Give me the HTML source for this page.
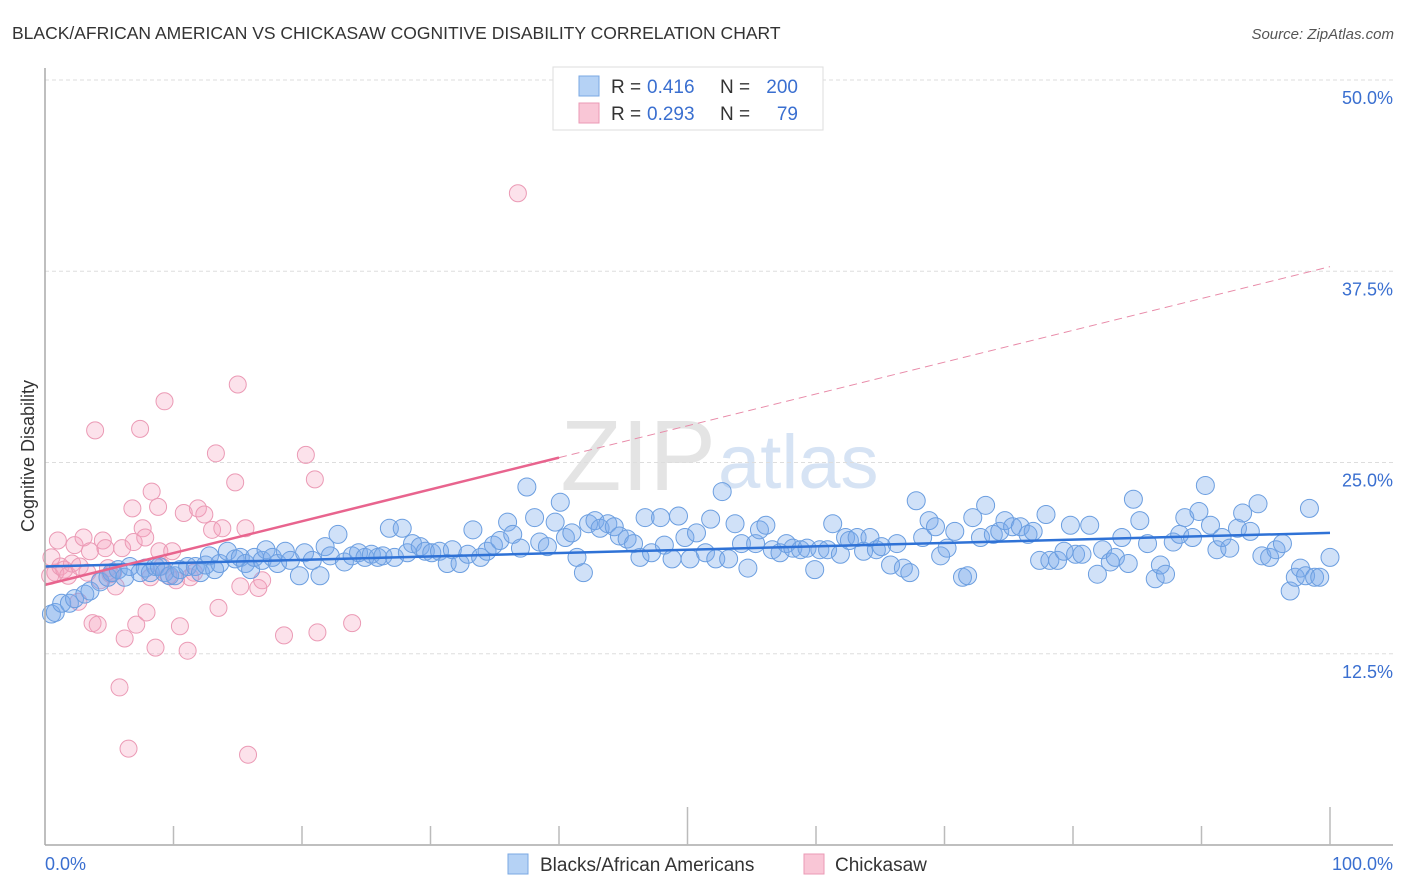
<!DOCTYPE html>
<html><head><meta charset="utf-8"><style>
body{margin:0;background:#fff;font-family:"Liberation Sans",sans-serif}
#wrap{position:relative;width:1406px;height:892px;overflow:hidden}
svg text{font-family:"Liberation Sans",sans-serif}
</style></head><body>
<div id="wrap">
<svg id="c" width="1406" height="892">
<text x="12" y="39" font-size="17.5" fill="#333">BLACK/AFRICAN AMERICAN VS CHICKASAW COGNITIVE DISABILITY CORRELATION CHART</text>
<text x="1394" y="39" font-size="15" fill="#555" font-style="italic" text-anchor="end">Source: ZipAtlas.com</text>
<text x="34" y="456" font-size="18" fill="#333" transform="rotate(-90 34 456)" text-anchor="middle">Cognitive Disability</text>
<text x="716" y="490" font-size="100" fill="#e4e4e4" text-anchor="end" font-family="Liberation Serif">ZIP</text>
<text x="718" y="488" font-size="76" fill="#d6e3f4">atlas</text>
<g id="grid"></g><g id="pts"></g><g id="lines"></g>
<line x1="45" y1="68" x2="45" y2="845" stroke="#aaa" stroke-width="1.5"/>
<line x1="45" y1="845" x2="1393" y2="845" stroke="#aaa" stroke-width="1.5"/>
<g id="xt"></g>
<text x="45" y="870" font-size="18" fill="#3a6fd0">0.0%</text>
<text x="1393" y="870" font-size="18" fill="#3a6fd0" text-anchor="end">100.0%</text>
<g>
<rect x="553" y="67" width="270" height="63" fill="#fff" stroke="#ddd"/>
<rect x="579" y="76" width="20" height="20" fill="#b5d2f5" stroke="#7aa8e3"/>
<rect x="579" y="103" width="20" height="20" fill="#f9c6d6" stroke="#eb9ab5"/>
<text x="611" y="93" font-size="19" fill="#333">R =</text>
<text x="647" y="93" font-size="19" fill="#3a6fd0">0.416</text>
<text x="720" y="93" font-size="19" fill="#333">N =</text>
<text x="798" y="93" font-size="19" fill="#3a6fd0" text-anchor="end">200</text>
<text x="611" y="120" font-size="19" fill="#333">R =</text>
<text x="647" y="120" font-size="19" fill="#3a6fd0">0.293</text>
<text x="720" y="120" font-size="19" fill="#333">N =</text>
<text x="798" y="120" font-size="19" fill="#3a6fd0" text-anchor="end">79</text>
</g>
<g><rect x="508" y="854" width="20" height="20" fill="#b5d2f5" stroke="#7aa8e3"/><text x="540" y="871" font-size="19" fill="#333">Blacks/African Americans</text></g>
<g><rect x="804" y="854" width="20" height="20" fill="#f9c6d6" stroke="#eb9ab5"/><text x="835" y="871" font-size="19" fill="#333">Chickasaw</text></g>
</svg></div>
<script>
const yTicks=[12.5,25,37.5,50];
const yTickLabels=["12.5%","25.0%","37.5%","50.0%"];
const xTicks=[10,20,30,40,50,60,70,80,90,100];
const blueX=[0.5,0.8,1.3,1.9,2.3,3.1,3.5,4.3,4.9,5.2,5.7,6.2,6.6,7.4,7.8,8.2,8.6,8.9,9.3,9.7,10.1,10.5,11.1,11.7,12.1,12.5,12.8,13.2,13.6,14.2,14.8,15.2,15.6,16.0,16.3,16.9,17.2,17.7,18.1,18.7,19.1,19.8,20.2,20.8,21.4,21.8,22.2,22.8,23.3,23.9,24.4,24.9,25.4,25.9,26.3,26.8,27.2,27.8,28.2,28.6,29.2,29.6,30.1,30.7,31.3,31.7,32.3,32.9,33.3,33.9,34.4,34.9,35.4,36.0,36.4,37.0,37.5,38.1,38.5,39.1,39.7,40.1,40.5,41.0,41.4,41.9,42.3,42.8,43.2,43.8,44.3,44.7,45.3,45.8,46.3,46.7,47.2,47.9,48.2,48.8,49.3,49.8,50.2,50.7,51.4,51.8,52.2,52.7,53.2,53.7,54.2,54.7,55.3,55.6,56.1,56.6,57.2,57.7,58.2,58.8,59.3,59.9,60.3,60.9,61.3,61.9,62.3,62.6,63.2,63.7,64.2,64.7,65.1,65.8,66.3,66.8,67.3,67.8,68.3,68.8,69.3,69.7,70.2,70.8,71.4,71.8,72.2,72.8,73.2,73.8,74.3,74.7,75.3,75.9,76.5,76.9,77.4,77.9,78.2,78.8,79.3,79.8,80.2,80.7,81.3,81.9,82.3,82.9,83.3,83.8,84.3,84.7,85.2,85.8,86.4,86.8,87.2,87.8,88.3,88.7,89.3,89.8,90.3,90.7,91.2,91.6,92.2,92.8,93.2,93.8,94.4,94.7,95.3,95.8,96.3,96.9,97.3,97.7,98.1,98.4,98.8,99.2,100];
const blueY=[15.1,15.2,15.8,15.8,16.1,16.4,16.6,17.2,17.5,17.8,18.0,17.5,18.2,17.8,18.1,17.8,18.2,18.2,17.8,17.6,17.6,18.0,18.2,18.2,17.8,18.3,18.9,18.0,18.4,19.2,18.7,18.8,18.4,18.0,18.8,18.6,19.3,18.8,18.4,19.2,18.6,17.6,19.1,18.6,17.6,19.5,18.9,20.3,18.5,18.9,19.1,18.8,19.0,18.8,18.9,20.7,18.8,20.7,19.1,19.7,19.5,19.2,19.1,19.2,18.4,19.3,18.4,19.0,20.6,18.8,19.2,19.6,19.9,21.1,20.3,19.4,23.4,21.4,19.8,19.5,21.1,22.4,20.1,20.4,18.8,17.8,21.0,21.2,20.7,21.0,20.8,20.2,20.0,19.7,18.8,21.4,19.1,21.4,19.6,18.7,21.5,20.1,18.7,20.4,19.1,21.3,18.7,23.1,18.7,21.0,19.7,18.1,19.7,20.6,20.9,19.3,19.1,19.7,19.4,19.3,19.4,18.0,19.3,19.3,21.0,19.0,20.1,19.9,20.1,19.2,20.1,19.3,19.5,18.3,19.7,18.1,17.8,22.5,20.1,21.2,20.8,18.9,19.4,20.5,17.5,17.6,21.4,20.1,22.2,20.3,20.5,21.2,20.8,20.8,20.3,20.5,18.6,21.6,18.6,18.6,19.2,20.9,19.0,19.0,20.9,17.7,19.3,18.5,18.8,20.1,18.4,22.6,21.2,19.7,17.4,18.3,17.7,19.8,20.3,21.4,20.1,21.8,23.5,20.9,19.3,20.1,19.4,20.7,21.7,20.5,22.3,18.9,18.8,19.3,19.7,16.6,17.5,18.1,17.6,22.0,17.5,17.5,18.8];
const pinkX=[0.4,0.5,0.8,1.0,1.2,1.5,1.8,2.1,2.3,2.6,2.7,3.0,3.3,3.5,3.7,3.9,4.1,4.3,4.5,4.7,4.9,5.1,5.3,5.5,5.8,6.0,6.2,6.5,6.8,6.9,7.1,7.4,7.6,7.8,7.9,8.2,8.3,8.6,8.8,8.9,9.1,9.3,9.6,9.9,10.2,10.5,10.8,11.1,11.3,11.6,11.9,12.4,13.0,13.3,13.5,13.8,14.8,15.0,15.2,15.6,15.8,16.6,16.9,18.6,20.3,21.0,21.2,23.9,36.8];
const pinkY=[17.6,18.8,17.8,19.9,18.2,18.0,17.6,18.4,19.6,15.9,18.2,20.1,17.8,19.2,14.5,27.1,14.4,17.3,19.9,19.4,18.1,17.7,17.8,16.9,10.3,19.4,13.5,6.3,22.0,19.8,14.4,27.2,20.7,20.1,15.2,17.5,23.1,12.9,22.1,19.2,18.2,29.0,17.6,19.2,17.3,14.3,21.7,12.7,17.5,17.8,22.0,21.6,20.6,25.6,15.5,20.7,23.7,30.1,16.9,20.7,5.9,16.8,17.3,13.7,25.5,23.9,13.9,14.5,42.6];
const blueTrend=[18.2,20.4];
const pinkTrend=[17.0,37.8];
const NS='http://www.w3.org/2000/svg';
const X=v=>45+v*12.85, Y=v=>845-v*15.3;
function mk(tag,at,parent){const e=document.createElementNS(NS,tag);for(const k in at)e.setAttribute(k,at[k]);document.getElementById(parent).appendChild(e);return e;}
yTicks.forEach((t,i)=>{
 const l=mk('line',{x1:45,x2:1393,y1:Y(t),y2:Y(t),stroke:'#ddd','stroke-dasharray':'4,3'},'grid');
 
 
 const tx=mk('text',{x:1393,y:Y(t)+24,'font-size':18,fill:'#3a6fd0','text-anchor':'end'},'grid');
 tx.textContent=yTickLabels[i];
 
 
});
xTicks.forEach(t=>{
 const big=(t===50||t===100);
 const l=mk('line',{x1:X(t),x2:X(t),y1:big?807:826,y2:845,stroke:'#bbb','stroke-width':1.5},'xt');
 
 
});
pinkX.forEach((x,i)=>{
 const c=mk('circle',{cx:X(x),cy:Y(pinkY[i]),r:8.5,fill:'rgba(245,160,190,0.3)',stroke:'#eb9ab5','stroke-width':1},'pts');
 
 
});
blueX.forEach((x,i)=>{
 const c=mk('circle',{cx:X(x),cy:Y(blueY[i]),r:9,fill:'rgba(120,170,235,0.35)',stroke:'#6b9ee0','stroke-width':1},'pts');
 
 
});
const bl=mk('line',{x1:X(0),y1:Y(blueTrend[0]),x2:X(100),y2:Y(blueTrend[1]),stroke:'#2f72d6','stroke-width':2.5},'lines');


const pm=v=>pinkTrend[0]+(pinkTrend[1]-pinkTrend[0])*v/100;
const pd=mk('line',{x1:X(40),y1:Y(pm(40)),x2:X(100),y2:Y(pm(100)),stroke:'#e88aa8','stroke-width':1,'stroke-dasharray':'8,5'},'lines');


const ps=mk('line',{x1:X(0),y1:Y(pm(0)),x2:X(40),y2:Y(pm(40)),stroke:'#e8648e','stroke-width':2.5},'lines');


</script>
</body></html>
